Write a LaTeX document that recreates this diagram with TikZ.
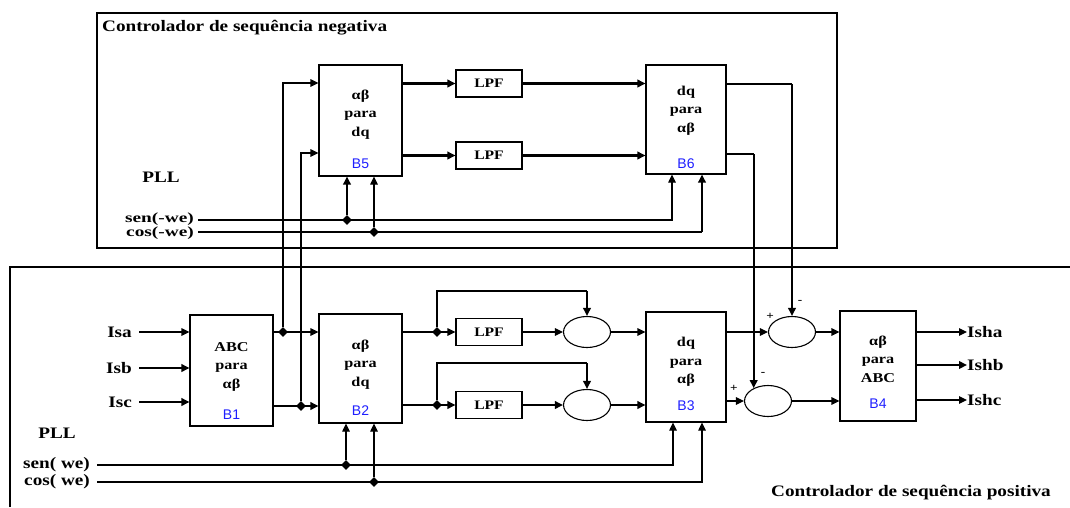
\documentclass[tikz,border=0pt]{standalone}
\usepackage{fontspec}
\setmainfont{Liberation Serif}[FakeStretch=1.2]
\newfontfamily\idfont{Liberation Sans}
\newfontfamily\plfont{Liberation Serif}[FakeStretch=1.38]
\usetikzlibrary{arrows.meta, positioning, calc, shapes.geometric}
\definecolor{wireink}{HTML}{000000}
\definecolor{idblue}{HTML}{1F1FFF}
\tikzset{
  blk/.style={draw=wireink, fill=white, inner sep=0pt, line width=1.1pt},
  lpf/.style={draw=wireink, inner sep=0pt, minimum width=66pt, minimum height=27pt,
    font=\fontsize{13}{14}\selectfont\bfseries, line width=1.1pt},
  summ/.style={draw=wireink, ellipse, inner sep=0pt, minimum width=47pt, minimum height=31pt, line width=1.1pt},
  btxt/.style={align=center, font=\fontsize{13.5}{18.5}\selectfont\bfseries, inner sep=0pt},
  bid/.style={font=\idfont\fontsize{14}{16}\selectfont, text=idblue, inner sep=0pt},
  lbl/.style={font=\fontsize{16}{18}\selectfont\bfseries, inner sep=0pt},
  pll/.style={font=\plfont\fontsize{14}{14}\selectfont\bfseries, inner sep=0pt},
  sgn/.style={font=\fontsize{11}{11}\selectfont\bfseries, inner sep=0pt},
  jdot/.style={diamond, fill=wireink, inner sep=0pt, minimum size=10pt},
  flow/.style={-{Triangle[length=8pt,width=7.5pt]}, draw=wireink, line width=1.1pt},
  flowb/.style={flow, line width=2.2pt},
  wire/.style={draw=wireink, line width=1.1pt},
  wireb/.style={wire, line width=2.2pt}
}

\begin{document}
\begin{tikzpicture}[x=1pt, y=-1pt]
\useasboundingbox (0,0) rectangle (1070,507);
% negative sequence
\draw[wire] (97,13) rectangle (837,248);
\node[lbl, anchor=west] (negt) at (102,28) {Controlador de sequência negativa};
\node[blk, minimum width=83pt, minimum height=111pt] (b5) at (360.5,120.5) {};
\node[btxt] at ($(b5.center)+(0,-6)$) {αβ\\para\\dq};
\node[bid] at ($(b5.south)+(0,-13)$) {B5};
\node[lpf] (lpfn1) at (489,83.5) {LPF};
\node[lpf] (lpfn2) at (489,155.5) {LPF};
\node[blk, minimum width=80pt, minimum height=109pt] (b6) at (686,119.5) {};
\node[btxt] at ($(b6.center)+(0,-9)$) {dq\\para\\αβ};
\node[bid] at ($(b6.south)+(0,-11)$) {B6};
\node[lbl] (plln) at (161,177) {PLL};
\node[pll, anchor=east] (senn) at (194,219) {sen(-we)};
\node[pll, anchor=east] (cosn) at (194,233) {cos(-we)};
\node[jdot] (dn1) at (347,220) {};
\node[jdot] (dn2) at (374,232) {};

% positive sequence
\draw[wire] (10,507) -- (10,267) -- (1070,267);
\node[lbl] (post) at (911,493) {Controlador de sequência positiva};
\node[lbl, anchor=east] (isa) at (132,332) {Isa};
\node[lbl, anchor=east] (isb) at (132,368) {Isb};
\node[lbl, anchor=east] (isc) at (132,402) {Isc};
\node[blk, minimum width=83pt, minimum height=111pt] (b1) at (231.5,370.5) {};
\node[btxt] at ($(b1.center)+(0,-4)$) {ABC\\para\\αβ};
\node[bid] at ($(b1.south)+(0,-12)$) {B1};
\node[blk, minimum width=83pt, minimum height=109pt] (b2) at (360.5,368.5) {};
\node[btxt] at ($(b2.center)+(0,-4)$) {αβ\\para\\dq};
\node[bid] at ($(b2.south)+(0,-13)$) {B2};
\node[lpf] (lpfp1) at (489,332) {LPF};
\node[lpf] (lpfp2) at (489,405) {LPF};
\node[summ] (ea) at (587,332) {};
\node[summ] (eb) at (587,405) {};
\node[blk, minimum width=80pt, minimum height=110pt] (b3) at (686,367) {};
\node[btxt] at ($(b3.center)+(0,-5)$) {dq\\para\\αβ};
\node[bid] at ($(b3.south)+(0,-17)$) {B3};
\node[summ] (sa) at (792,332) {};
\node[summ] (sb) at (768,401) {};
\node[sgn] at (770,316) {+};
\node[sgn] at (800,302) {-};
\node[sgn] at (734,388) {+};
\node[sgn] at (763,374) {-};
\node[blk, minimum width=76pt, minimum height=110pt] (b4) at (878,366) {};
\node[btxt] at ($(b4.center)+(0,-7)$) {αβ\\para\\ABC};
\node[bid] at ($(b4.south)+(0,-18)$) {B4};
\node[lbl, anchor=west] (isha) at (967,332) {Isha};
\node[lbl, anchor=west] (ishb) at (967,365) {Ishb};
\node[lbl, anchor=west] (ishc) at (967,400) {Ishc};
\node[lbl] (pllp) at (57,433) {PLL};
\node[lbl, anchor=east] (senp) at (90,465) {sen( we)};
\node[lbl, anchor=east] (cosp) at (90,482) {cos( we)};
\node[jdot] (ja) at (283,332) {};
\node[jdot] (jb) at (301,406) {};
\node[jdot] (jc) at (437,332) {};
\node[jdot] (jd) at (437,405) {};
\node[jdot] (jp1) at (346,465) {};
\node[jdot] (jp2) at (374,482) {};

% connectors, negative sequence
\draw[flowb] (b5.east |- lpfn1) -- (lpfn1.west);
\draw[flowb] (b5.east |- lpfn2) -- (lpfn2.west);
\draw[flowb] (lpfn1.east) -- (lpfn1 -| b6.west);
\draw[flowb] (lpfn2.east) -- (lpfn2 -| b6.west);
\draw[wire] (b6.east |- 0,84) -- (sa.north |- 0,84);
\draw[flowb] (sa.north |- 0,84) -- (sa.north);
\draw[wire] (b6.east |- 0,154) -- (sb.138 |- 0,154);
\draw[flowb] (sb.138 |- 0,154) -- (sb.138);
\draw[flow] (198,220) -| (b6.south -| 672,0);
\draw[wire] (198,232) -- (702,232);
\draw[flowb] (702,232) -- (b6.south -| 702,0);
\draw[flowb] (dn1) -- (b5.south -| dn1);
\draw[flow] (dn2) -- (b5.south -| dn2);

% connectors, positive sequence
\draw[flow] ([xshift=7pt]isa.east) -- (isa -| b1.west);
\draw[flowb] ([xshift=7pt]isb.east) -- (isb -| b1.west);
\draw[flowb] ([xshift=7pt]isc.east) -- (isc -| b1.west);
\draw[flow] (b1.east |- ja) -- (ja -| b2.west);
\draw[flowb] (b1.east |- jb) -- (jb -| b2.west);
\draw[flow] (ja) |- (b5.west |- 0,83);
\draw[flow] (jb) |- (b5.west |- 0,153);
\draw[flow] (b2.east |- jc) -- (jc -| lpfp1.west);
\draw[flowb] (b2.east |- jd) -- (jd -| lpfp2.west);
\draw[wire] (jc) |- (ea.north |- 0,291);
\draw[flowb] (ea.north |- 0,291) -- (ea.north);
\draw[wire] (jd) |- (eb.north |- 0,363);
\draw[flowb] (eb.north |- 0,363) -- (eb.north);
\draw[flow] (lpfp1.east) -- (ea.west);
\draw[flowb] (lpfp2.east) -- (eb.west);
\draw[flow] (ea.east) -- (ea -| b3.west);
\draw[flowb] (eb.east) -- (eb -| b3.west);
\draw[flow] (b3.east |- sa) -- (sa.west);
\draw[flow] (b3.east |- sb) -- (sb.west);
\draw[flow] (sa.east) -- (sa -| b4.west);
\draw[flow] (sb.east) -- (sb -| b4.west);
\draw[flow] (b4.east |- isha) -- (isha.west);
\draw[flowb] (b4.east |- ishb) -- (ishb.west);
\draw[flow] (b4.east |- ishc) -- (ishc.west);
\draw[flow] ([xshift=7pt]senp.east) -| (b3.south -| 673,0);
\draw[flow] ([xshift=7pt]cosp.east) -| (b3.south -| 702,0);
\draw[flow] (jp1) -- (b2.south -| jp1);
\draw[flow] (jp2) -- (b2.south -| jp2);
\end{tikzpicture}
\end{document}
